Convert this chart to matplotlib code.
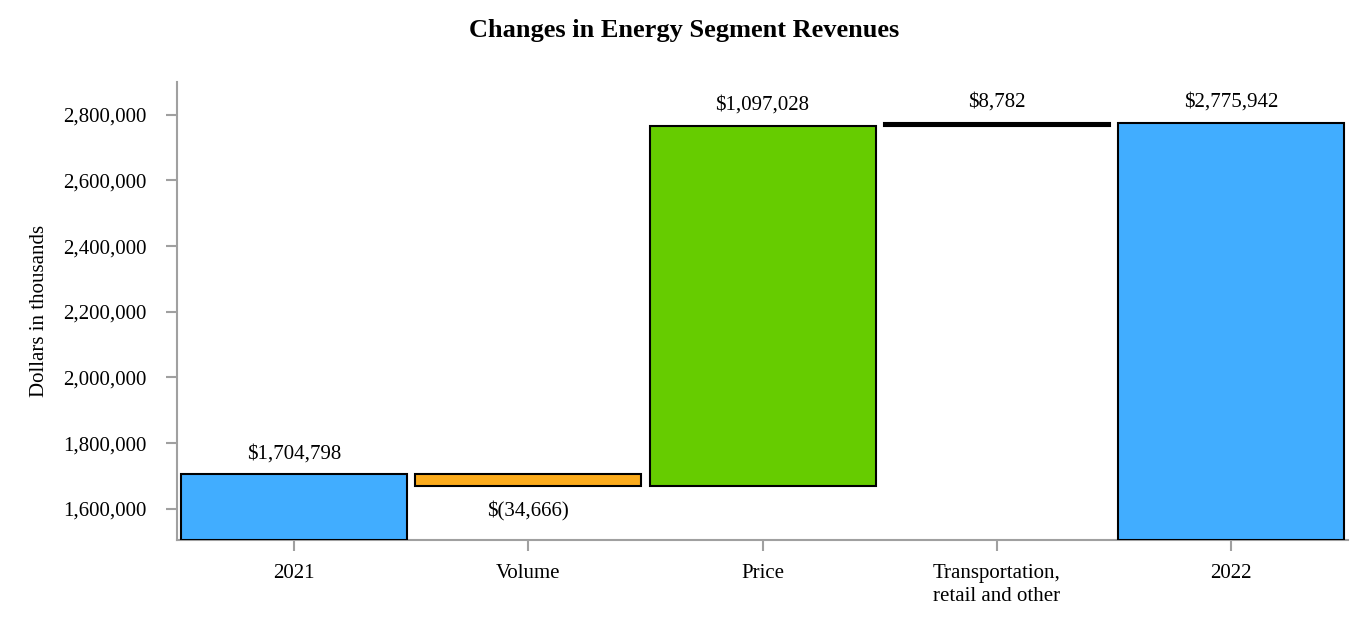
import numpy as np
import matplotlib
matplotlib.use("Agg")
import matplotlib.pyplot as plt
from matplotlib.ticker import FuncFormatter

# -------------------
# Data
# -------------------
categories = ["2021", "Volume", "Price", "Transportation,\nretail and other", "2022"]
start_total = 1704798
changes = [-34666, 1097028, 8782]
end_total = 2775942
labels = ["$1,704,798", "$(34,666)", "$1,097,028", "$8,782", "$2,775,942"]

colors = ["#41adff", "#fbab1c", "#66cc00", "#000000", "#41adff"]
ymin, ymax = 1505000, 2900000

# -------------------
# Waterfall geometry
# -------------------
bottoms = [ymin]
heights = [start_total - ymin]
running = start_total
for c in changes:
    bottoms.append(running if c >= 0 else running + c)
    heights.append(abs(c))
    running += c
bottoms.append(ymin)
heights.append(end_total - ymin)

plt.rcParams["font.family"] = ["Liberation Serif", "DejaVu Serif"]

fig = plt.figure(figsize=(13.68, 6.26), dpi=100)
ax = fig.add_axes([0.1294, 0.1374, 0.856, 0.7316])

x = np.arange(len(categories))
ax.bar(x, heights, bottom=bottoms, width=0.965, color=colors,
       edgecolor="black", linewidth=1.5, zorder=3)

# value labels: above gains/totals, below losses
for i, (b, h, lab) in enumerate(zip(bottoms, heights, labels)):
    if i in (1, 2, 3) and changes[i - 1] < 0:
        ax.annotate(lab, (x[i], b), xytext=(0, -18.5), textcoords="offset points",
                    ha="center", va="center", fontsize=15)
    else:
        ax.annotate(lab, (x[i], b + h), xytext=(0, 15), textcoords="offset points",
                    ha="center", va="center", fontsize=15)

ax.set_xlim(-0.5, 4.5)
ax.set_ylim(ymin, ymax)
ax.set_yticks(np.arange(1600000, 2800001, 200000))
ax.yaxis.set_major_formatter(FuncFormatter(lambda v, p: f"{int(v):,}"))
ax.set_xticks(x)
ax.set_xticklabels(categories, linespacing=1.3)

for s in ("top", "right"):
    ax.spines[s].set_visible(False)
for s in ("left", "bottom"):
    ax.spines[s].set_color("#a0a0a0")
    ax.spines[s].set_linewidth(1.5)

ax.tick_params(axis="y", length=8, width=1.5, color="#a0a0a0", pad=14, labelsize=15)
ax.tick_params(axis="x", length=8, width=1.5, color="#a0a0a0", pad=9, labelsize=15)

ax.set_ylabel("Dollars in thousands", fontsize=15, labelpad=10)
fig.suptitle("Changes in Energy Segment Revenues", fontsize=19, fontweight="bold",
             y=0.952, va="center")

fig.savefig("out.png", dpi=100)
